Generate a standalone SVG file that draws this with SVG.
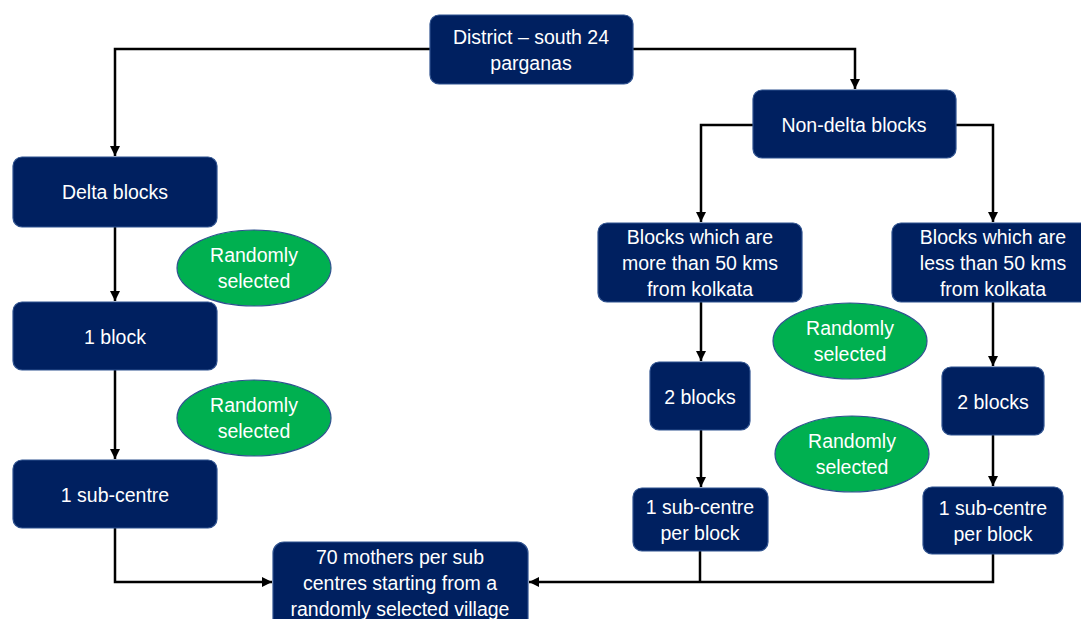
<svg xmlns="http://www.w3.org/2000/svg" width="1081" height="619" viewBox="0 0 1081 619">
<defs>
<marker id="ah" markerUnits="userSpaceOnUse" markerWidth="12" markerHeight="12" refX="10" refY="5" orient="auto">
<path d="M0,0 L10,5 L0,10 Z" fill="#000"/>
</marker>
<style>
.n{fill:#002060;stroke:#2F528F;stroke-width:1.2}
.e{fill:#00B050;stroke:#2F528F;stroke-width:1.2}
text{font-family:"Liberation Sans",Arial,sans-serif;font-size:19.5px;fill:#fff;text-anchor:middle}
.c{fill:none;stroke:#000;stroke-width:2.5}
</style>
</defs>
<rect width="1081" height="619" fill="#fff"/>
<g id="connectors">
<path class="c" d="M430,49 H115 V156" marker-end="url(#ah)"/>
<path class="c" d="M633,49 H855 V89" marker-end="url(#ah)"/>
<path class="c" d="M753,125 H701 V222" marker-end="url(#ah)"/>
<path class="c" d="M956,125 H993 V222" marker-end="url(#ah)"/>
<path class="c" d="M115,227 V301" marker-end="url(#ah)"/>
<path class="c" d="M115,370 V459" marker-end="url(#ah)"/>
<path class="c" d="M115,528 V582 H272" marker-end="url(#ah)"/>
<path class="c" d="M701,302 V361" marker-end="url(#ah)"/>
<path class="c" d="M701,430 V487" marker-end="url(#ah)"/>
<path class="c" d="M993,302 V366" marker-end="url(#ah)"/>
<path class="c" d="M993,435 V486" marker-end="url(#ah)"/>
<path class="c" d="M700,551 V582"/>
<path class="c" d="M993,554 V582 H529" marker-end="url(#ah)"/>
</g>
<g id="district"><rect class="n" x="430" y="15" width="203" height="69" rx="9"/><text x="531" y="44">District – south 24</text><text x="531" y="70">parganas</text></g>
<g id="delta"><rect class="n" x="13" y="157" width="204" height="70" rx="9"/><text x="115" y="199">Delta blocks</text></g>
<g id="block1"><rect class="n" x="13" y="302" width="204" height="68" rx="9"/><text x="115" y="344">1 block</text></g>
<g id="subcentre1"><rect class="n" x="13" y="460" width="204" height="68" rx="9"/><text x="115" y="502">1 sub-centre</text></g>
<g id="rand1"><ellipse class="e" cx="254" cy="268" rx="77" ry="38"/><text x="254" y="262">Randomly</text><text x="254" y="288">selected</text></g>
<g id="rand2"><ellipse class="e" cx="254" cy="418" rx="77" ry="38"/><text x="254" y="412">Randomly</text><text x="254" y="438">selected</text></g>
<g id="mothers"><rect class="n" x="273" y="542" width="255" height="95" rx="11"/><text x="400" y="564">70 mothers per sub</text><text x="400" y="590">centres starting from a</text><text x="400" y="616">randomly selected village</text></g>
<g id="nondelta"><rect class="n" x="753" y="90" width="203" height="68" rx="9"/><text x="854" y="132">Non-delta blocks</text></g>
<g id="more50"><rect class="n" x="598" y="223" width="204" height="79" rx="9"/><text x="700" y="244">Blocks which are</text><text x="700" y="270">more than 50 kms</text><text x="700" y="296">from kolkata</text></g>
<g id="less50"><rect class="n" x="892" y="223" width="203" height="79" rx="9"/><text x="993" y="244">Blocks which are</text><text x="993" y="270">less than 50 kms</text><text x="993" y="296">from kolkata</text></g>
<g id="blocks2a"><rect class="n" x="650" y="362" width="100" height="68" rx="9"/><text x="700" y="404">2 blocks</text></g>
<g id="blocks2b"><rect class="n" x="942" y="367" width="102" height="68" rx="9"/><text x="993" y="409">2 blocks</text></g>
<g id="subA"><rect class="n" x="633" y="488" width="135" height="63" rx="9"/><text x="700" y="514">1 sub-centre</text><text x="700" y="540">per block</text></g>
<g id="subB"><rect class="n" x="923" y="487" width="140" height="67" rx="9"/><text x="993" y="515">1 sub-centre</text><text x="993" y="541">per block</text></g>
<g id="rand3"><ellipse class="e" cx="850" cy="341" rx="77" ry="38"/><text x="850" y="335">Randomly</text><text x="850" y="361">selected</text></g>
<g id="rand4"><ellipse class="e" cx="852" cy="454" rx="77" ry="38"/><text x="852" y="448">Randomly</text><text x="852" y="474">selected</text></g>
</svg>
